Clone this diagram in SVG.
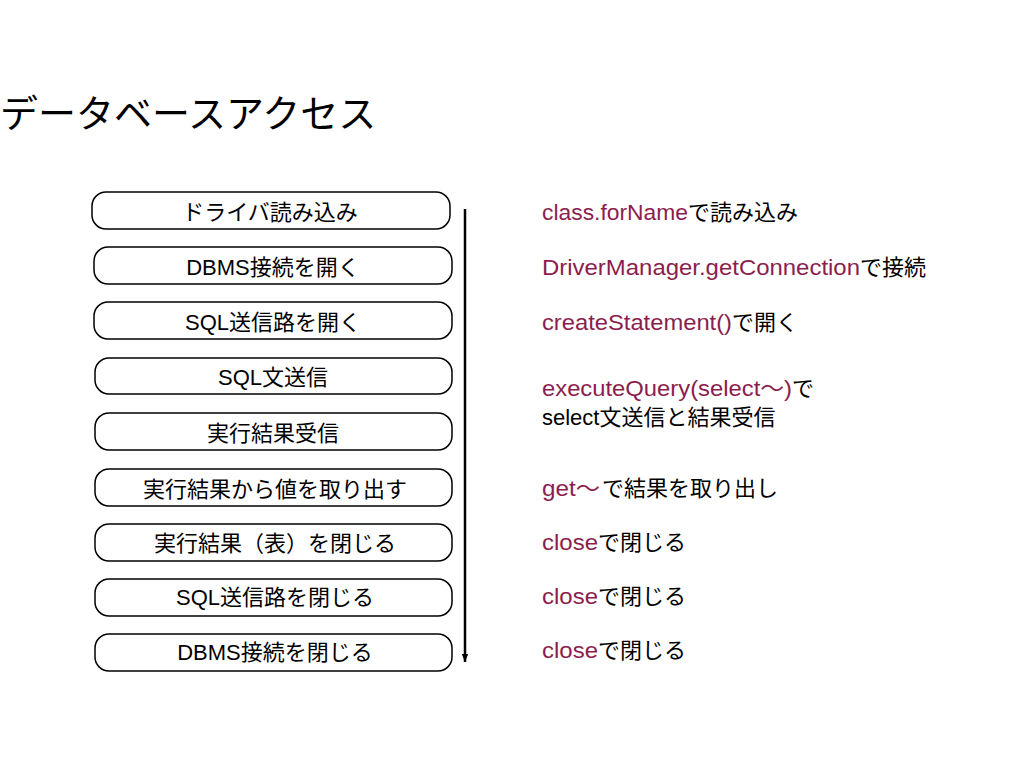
<svg xmlns="http://www.w3.org/2000/svg" width="1024" height="768" viewBox="0 0 1024 768">
<style>
text{font-family:"Liberation Sans","Noto Sans CJK JP",sans-serif;fill:#000}
.box{fill:#fff;stroke:#000;stroke-width:1.5}
.bl{font-size:22px;text-anchor:middle;dominant-baseline:central}
.rl{font-size:22px;dominant-baseline:central}
.m{fill:#8B1E4E}
</style>
<defs>
<marker id="arr" viewBox="0 0 10 10" refX="10" refY="5" markerWidth="10" markerHeight="8" orient="auto" markerUnits="userSpaceOnUse">
<path d="M0,1 L10,5 L0,9 Z" fill="#000"/>
</marker>
</defs>
<rect width="1024" height="768" fill="#fff"/>
<text x="0" y="114" style="font-size:38px;dominant-baseline:central">データベースアクセス</text>
<g id="n1"><rect class="box" x="92" y="192" width="358" height="37" rx="14"/><text class="bl" x="270" y="212">ドライバ読み込み</text></g>
<g id="n2"><rect class="box" x="94" y="247" width="358" height="37" rx="14"/><text class="bl" x="273" y="267">DBMS接続を開く</text></g>
<g id="n3"><rect class="box" x="94" y="302" width="358" height="37" rx="14"/><text class="bl" x="273" y="322">SQL送信路を開く</text></g>
<g id="n4"><rect class="box" x="95" y="358" width="357" height="36" rx="14"/><text class="bl" x="273" y="377">SQL文送信</text></g>
<g id="n5"><rect class="box" x="95" y="413" width="357" height="37" rx="14"/><text class="bl" x="273" y="433">実行結果受信</text></g>
<g id="n6"><rect class="box" x="95" y="469" width="357" height="37" rx="14"/><text class="bl" x="275" y="489">実行結果から値を取り出す</text></g>
<g id="n7"><rect class="box" x="95" y="524" width="357" height="37" rx="14"/><text class="bl" x="275" y="543">実行結果（表）を閉じる</text></g>
<g id="n8"><rect class="box" x="95" y="579" width="357" height="37" rx="14"/><text class="bl" x="275" y="597">SQL送信路を閉じる</text></g>
<g id="n9"><rect class="box" x="95" y="634" width="357" height="37" rx="14"/><text class="bl" x="275" y="652">DBMS接続を閉じる</text></g>
<g id="connectors">
<line x1="465" y1="209" x2="465" y2="662" stroke="#000" stroke-width="2.5" marker-end="url(#arr)"/>
</g>
<g id="notes">
<text class="rl m" x="542" y="212" textLength="146" lengthAdjust="spacingAndGlyphs">class.forName</text>
<text class="rl" x="688" y="212">で読み込み</text>
<text class="rl m" x="542" y="267" textLength="318" lengthAdjust="spacingAndGlyphs">DriverManager.getConnection</text>
<text class="rl" x="860" y="267">で接続</text>
<text class="rl m" x="542" y="322" textLength="190" lengthAdjust="spacingAndGlyphs">createStatement()</text>
<text class="rl" x="732" y="322">で開く</text>
<text class="rl m" x="542" y="388" textLength="250" lengthAdjust="spacingAndGlyphs">executeQuery(select～)</text>
<text class="rl" x="792" y="388">で</text>
<text class="rl" x="542" y="417">select文送信と結果受信</text>
<text class="rl m" x="542" y="488" textLength="58" lengthAdjust="spacingAndGlyphs">get～</text>
<text class="rl" x="602" y="488">で結果を取り出し</text>
<text class="rl m" x="542" y="542" textLength="56" lengthAdjust="spacingAndGlyphs">close</text>
<text class="rl" x="598" y="542">で閉じる</text>
<text class="rl m" x="542" y="596" textLength="56" lengthAdjust="spacingAndGlyphs">close</text>
<text class="rl" x="598" y="596">で閉じる</text>
<text class="rl m" x="542" y="650" textLength="56" lengthAdjust="spacingAndGlyphs">close</text>
<text class="rl" x="598" y="650">で閉じる</text>
</g>
</svg>
